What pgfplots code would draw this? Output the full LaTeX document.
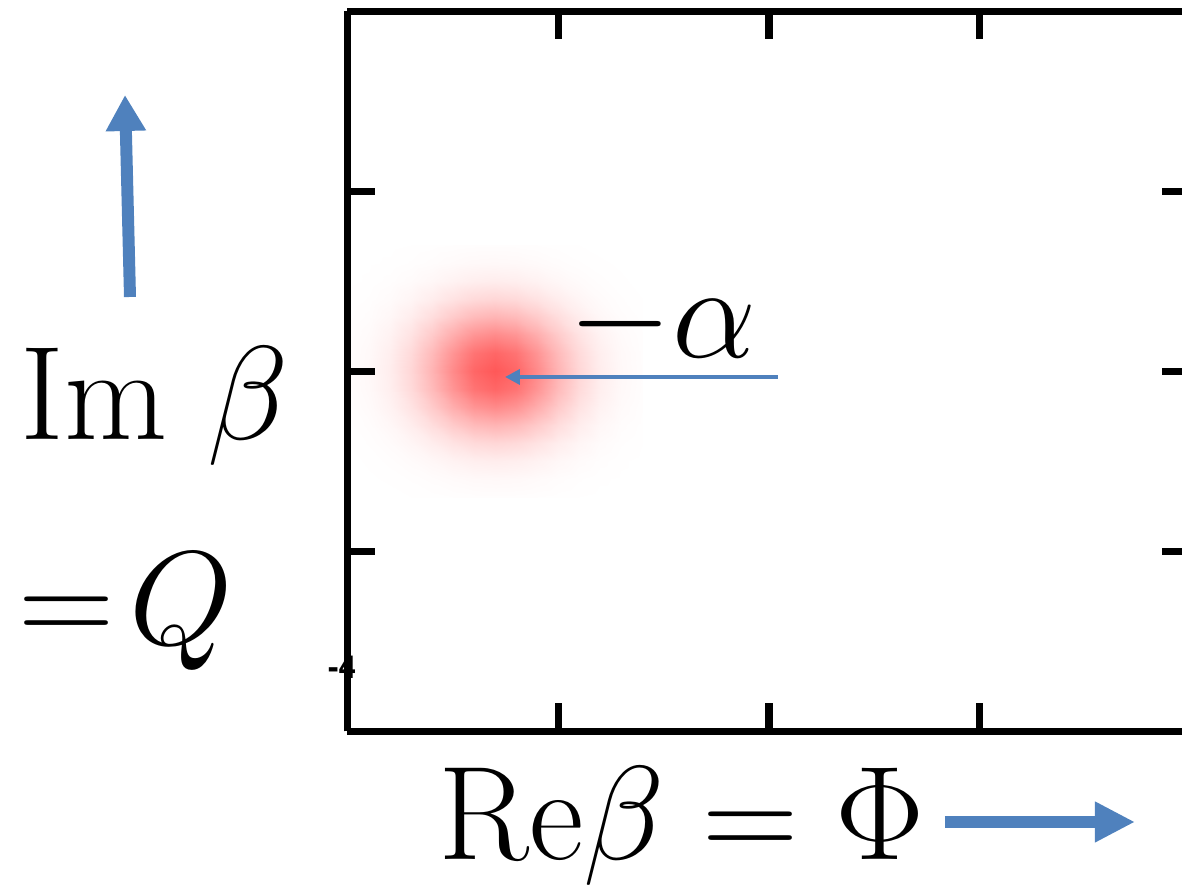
\documentclass[border=0pt]{standalone}
\usepackage{fix-cm}
\usepackage{pgfplots}
\pgfplotsset{compat=1.18}
\usepackage{fontspec}
\newfontfamily\tickfont{TeX Gyre Heros}
\usetikzlibrary{arrows.meta}
\definecolor{arrowblue}{RGB}{79,129,189}
\newcommand{\bigfont}{\fontsize{38}{42}\selectfont}

\begin{document}
\begin{tikzpicture}[x=1cm,y=1cm]
\useasboundingbox (0,0) rectangle (11.82,8.87);

\begin{axis}[
  at={(3.475cm,1.555cm)}, anchor=south west,
  scale only axis, width=8.43cm, height=7.20cm,
  xmin=-4, xmax=4, ymin=-4, ymax=4,
  enlargelimits=false,
  view={0}{90},
  xtick={-2,0,2}, ytick={-2,0,2},
  xticklabels={}, yticklabels={},
  tick align=inside,
  major tick length=0.28cm,
  axis line style={line width=2pt},
  every tick/.style={black, line width=2pt},
  axis on top,
  colormap={wr}{rgb255=(255,255,255) rgb255=(255,88,88)},
  point meta min=0, point meta max=1,
]
% density of the coherent state, centred near (-2.6, 0)
\addplot3[surf, shader=interp, mesh/cols=15] table[row sep=\\] {
x y z\\
-4.0 -1.4 0\\ -3.8 -1.4 .001\\ -3.6 -1.4 .001\\ -3.4 -1.4 .003\\ -3.2 -1.4 .006\\ -3.0 -1.4 .009\\ -2.8 -1.4 .012\\ -2.6 -1.4 .013\\ -2.4 -1.4 .012\\ -2.2 -1.4 .009\\ -2.0 -1.4 .006\\ -1.8 -1.4 .003\\ -1.6 -1.4 .001\\ -1.4 -1.4 .001\\ -1.2 -1.4 0\\
-4.0 -1.2 .001\\ -3.8 -1.2 .002\\ -3.6 -1.2 .004\\ -3.4 -1.2 .010\\ -3.2 -1.2 .018\\ -3.0 -1.2 .029\\ -2.8 -1.2 .038\\ -2.6 -1.2 .041\\ -2.4 -1.2 .038\\ -2.2 -1.2 .029\\ -2.0 -1.2 .018\\ -1.8 -1.2 .010\\ -1.6 -1.2 .004\\ -1.4 -1.2 .002\\ -1.2 -1.2 .001\\
-4.0 -1.0 .001\\ -3.8 -1.0 .004\\ -3.6 -1.0 .012\\ -3.4 -1.0 .026\\ -3.2 -1.0 .048\\ -3.0 -1.0 .076\\ -2.8 -1.0 .099\\ -2.6 -1.0 .108\\ -2.4 -1.0 .099\\ -2.2 -1.0 .076\\ -2.0 -1.0 .048\\ -1.8 -1.0 .026\\ -1.6 -1.0 .012\\ -1.4 -1.0 .004\\ -1.2 -1.0 .001\\
-4.0 -0.8 .003\\ -3.8 -0.8 .010\\ -3.6 -0.8 .026\\ -3.4 -0.8 .058\\ -3.2 -0.8 .108\\ -3.0 -0.8 .169\\ -2.8 -0.8 .221\\ -2.6 -0.8 .241\\ -2.4 -0.8 .221\\ -2.2 -0.8 .169\\ -2.0 -0.8 .108\\ -1.8 -0.8 .058\\ -1.6 -0.8 .026\\ -1.4 -0.8 .010\\ -1.2 -0.8 .003\\
-4.0 -0.6 .006\\ -3.8 -0.6 .018\\ -3.6 -0.6 .048\\ -3.4 -0.6 .108\\ -3.2 -0.6 .202\\ -3.0 -0.6 .315\\ -2.8 -0.6 .411\\ -2.6 -0.6 .449\\ -2.4 -0.6 .411\\ -2.2 -0.6 .315\\ -2.0 -0.6 .202\\ -1.8 -0.6 .108\\ -1.6 -0.6 .048\\ -1.4 -0.6 .018\\ -1.2 -0.6 .006\\
-4.0 -0.4 .009\\ -3.8 -0.4 .029\\ -3.6 -0.4 .076\\ -3.4 -0.4 .169\\ -3.2 -0.4 .315\\ -3.0 -0.4 .491\\ -2.8 -0.4 .641\\ -2.6 -0.4 .701\\ -2.4 -0.4 .641\\ -2.2 -0.4 .491\\ -2.0 -0.4 .315\\ -1.8 -0.4 .169\\ -1.6 -0.4 .076\\ -1.4 -0.4 .029\\ -1.2 -0.4 .009\\
-4.0 -0.2 .012\\ -3.8 -0.2 .038\\ -3.6 -0.2 .099\\ -3.4 -0.2 .221\\ -3.2 -0.2 .411\\ -3.0 -0.2 .641\\ -2.8 -0.2 .837\\ -2.6 -0.2 .915\\ -2.4 -0.2 .837\\ -2.2 -0.2 .641\\ -2.0 -0.2 .411\\ -1.8 -0.2 .221\\ -1.6 -0.2 .099\\ -1.4 -0.2 .038\\ -1.2 -0.2 .012\\
-4.0 0.0 .013\\ -3.8 0.0 .041\\ -3.6 0.0 .108\\ -3.4 0.0 .241\\ -3.2 0.0 .449\\ -3.0 0.0 .701\\ -2.8 0.0 .915\\ -2.6 0.0 1\\ -2.4 0.0 .915\\ -2.2 0.0 .701\\ -2.0 0.0 .449\\ -1.8 0.0 .241\\ -1.6 0.0 .108\\ -1.4 0.0 .041\\ -1.2 0.0 .013\\
-4.0 0.2 .012\\ -3.8 0.2 .038\\ -3.6 0.2 .099\\ -3.4 0.2 .221\\ -3.2 0.2 .411\\ -3.0 0.2 .641\\ -2.8 0.2 .837\\ -2.6 0.2 .915\\ -2.4 0.2 .837\\ -2.2 0.2 .641\\ -2.0 0.2 .411\\ -1.8 0.2 .221\\ -1.6 0.2 .099\\ -1.4 0.2 .038\\ -1.2 0.2 .012\\
-4.0 0.4 .009\\ -3.8 0.4 .029\\ -3.6 0.4 .076\\ -3.4 0.4 .169\\ -3.2 0.4 .315\\ -3.0 0.4 .491\\ -2.8 0.4 .641\\ -2.6 0.4 .701\\ -2.4 0.4 .641\\ -2.2 0.4 .491\\ -2.0 0.4 .315\\ -1.8 0.4 .169\\ -1.6 0.4 .076\\ -1.4 0.4 .029\\ -1.2 0.4 .009\\
-4.0 0.6 .006\\ -3.8 0.6 .018\\ -3.6 0.6 .048\\ -3.4 0.6 .108\\ -3.2 0.6 .202\\ -3.0 0.6 .315\\ -2.8 0.6 .411\\ -2.6 0.6 .449\\ -2.4 0.6 .411\\ -2.2 0.6 .315\\ -2.0 0.6 .202\\ -1.8 0.6 .108\\ -1.6 0.6 .048\\ -1.4 0.6 .018\\ -1.2 0.6 .006\\
-4.0 0.8 .003\\ -3.8 0.8 .010\\ -3.6 0.8 .026\\ -3.4 0.8 .058\\ -3.2 0.8 .108\\ -3.0 0.8 .169\\ -2.8 0.8 .221\\ -2.6 0.8 .241\\ -2.4 0.8 .221\\ -2.2 0.8 .169\\ -2.0 0.8 .108\\ -1.8 0.8 .058\\ -1.6 0.8 .026\\ -1.4 0.8 .010\\ -1.2 0.8 .003\\
-4.0 1.0 .001\\ -3.8 1.0 .004\\ -3.6 1.0 .012\\ -3.4 1.0 .026\\ -3.2 1.0 .048\\ -3.0 1.0 .076\\ -2.8 1.0 .099\\ -2.6 1.0 .108\\ -2.4 1.0 .099\\ -2.2 1.0 .076\\ -2.0 1.0 .048\\ -1.8 1.0 .026\\ -1.6 1.0 .012\\ -1.4 1.0 .004\\ -1.2 1.0 .001\\
-4.0 1.2 .001\\ -3.8 1.2 .002\\ -3.6 1.2 .004\\ -3.4 1.2 .010\\ -3.2 1.2 .018\\ -3.0 1.2 .029\\ -2.8 1.2 .038\\ -2.6 1.2 .041\\ -2.4 1.2 .038\\ -2.2 1.2 .029\\ -2.0 1.2 .018\\ -1.8 1.2 .010\\ -1.6 1.2 .004\\ -1.4 1.2 .002\\ -1.2 1.2 .001\\
-4.0 1.4 0\\ -3.8 1.4 .001\\ -3.6 1.4 .001\\ -3.4 1.4 .003\\ -3.2 1.4 .006\\ -3.0 1.4 .009\\ -2.8 1.4 .012\\ -2.6 1.4 .013\\ -2.4 1.4 .012\\ -2.2 1.4 .009\\ -2.0 1.4 .006\\ -1.8 1.4 .003\\ -1.6 1.4 .001\\ -1.4 1.4 .001\\ -1.2 1.4 0\\
};
\end{axis}

% stray tick label
\node[anchor=east, inner sep=0pt, font=\tickfont\bfseries\fontsize{9}{10}\selectfont] at (3.57,2.20) {-4};

% axis names
\node[anchor=base west, inner sep=0pt, font=\bigfont] at (0.20,4.47) {Im $\beta$};
\node[anchor=base west, inner sep=0pt, font=\bigfont] at (0.18,2.42) {$=\!Q$};
\node[anchor=base west, inner sep=0pt, font=\bigfont] at (4.38,0.27) {Re$\beta=\Phi$};
\node[anchor=base west, inner sep=0pt, font=\bigfont] at (5.68,5.29) {$-\alpha$};

% arrows
\draw[arrowblue, line width=0.12cm, -{Triangle[length=0.36cm, width=0.38cm]}] (1.30,5.90) -- (1.25,7.92);
\draw[arrowblue, line width=0.12cm, -{Triangle[length=0.40cm, width=0.38cm]}] (9.45,0.65) -- (11.35,0.65);
\draw[arrowblue, line width=0.04cm, -{Triangle[length=0.15cm, width=0.15cm]}] (7.78,5.10) -- (5.05,5.10);
\end{tikzpicture}
\end{document}
